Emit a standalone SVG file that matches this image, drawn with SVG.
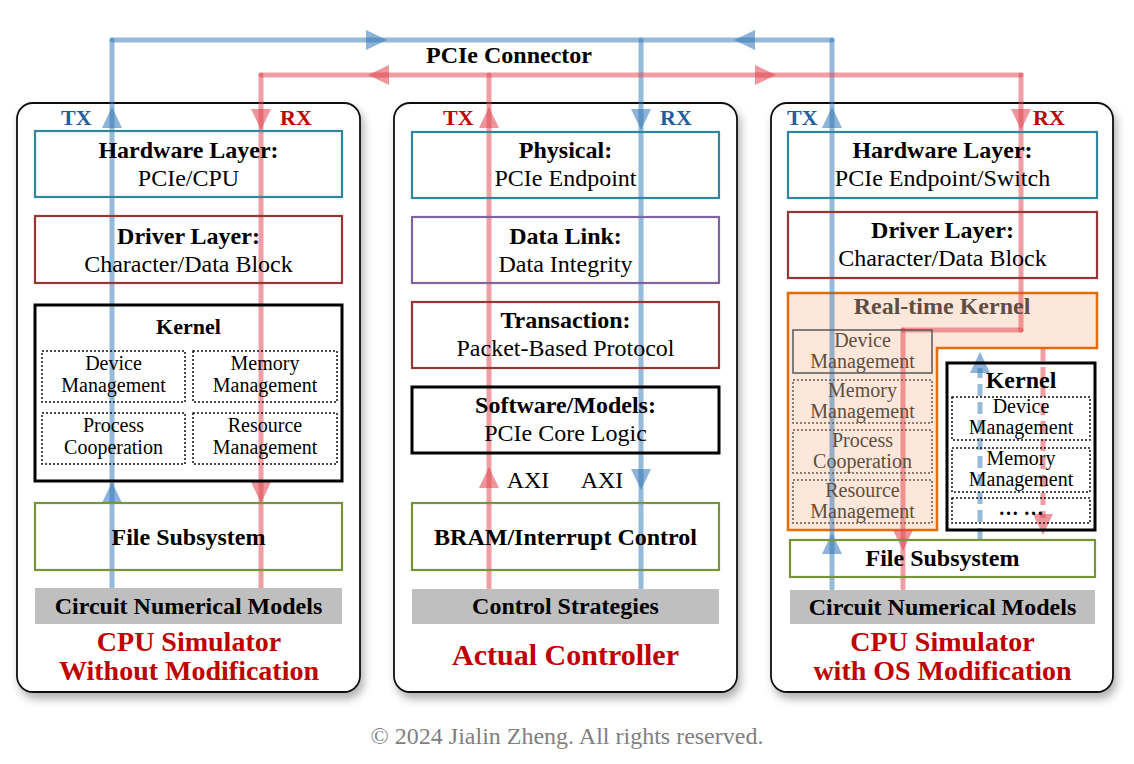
<svg xmlns="http://www.w3.org/2000/svg" width="1134" height="764" viewBox="0 0 1134 764">
<defs>
<style>
text{font-family:"Liberation Serif","Times New Roman",serif;text-anchor:middle}
.b{font-weight:bold}
.t24{font-size:24px}
.t21{font-size:20px}
.lbl{font-size:22px;font-weight:bold;text-anchor:start}
.title{font-size:28px;font-weight:bold;fill:#C00000}
.panel{fill:#fff;stroke:#111;stroke-width:1.8;filter:url(#sh)}
.box{fill:none;stroke-width:2.2}
.teal{stroke:#31859C}
.dred{stroke:#953735}
.purple{stroke:#8064A2}
.green{stroke:#77933C}
.blk{fill:none;stroke:#000;stroke-width:3}
.dot{fill:none;stroke:#111;stroke-width:1.5;stroke-dasharray:2 2}
.dotg{fill:none;stroke:#6a5a4e;stroke-width:1.5;stroke-dasharray:2 2}
.gray{fill:#BFBFBF}
.bl{stroke:#2E75B6;stroke-opacity:.5;stroke-width:5;stroke-linecap:round;fill:none}
.rd{stroke:#E0404A;stroke-opacity:.5;stroke-width:5;stroke-linecap:round;fill:none}
.bla{fill:#2E75B6;fill-opacity:.55}
.rda{fill:#E0404A;fill-opacity:.55}
.dash{stroke-dasharray:12 6;stroke-linecap:butt}
.rt{fill:#5E4E42}
</style>
<filter id="sh" x="-10%" y="-10%" width="120%" height="120%">
<feDropShadow dx="3" dy="6" stdDeviation="4" flood-color="#000" flood-opacity="0.3"/>
</filter>
<path id="ah" d="M0 0 L-21 -10 L-21 10 Z"/>
</defs>
<rect width="1134" height="764" fill="#fff"/>

<g id="panels">
<rect id="panel-left" class="panel" x="17" y="103" width="343" height="589" rx="16"/>
<rect id="panel-mid" class="panel" x="394" y="103" width="343" height="589" rx="16"/>
<rect id="panel-right" class="panel" x="771" y="103" width="342" height="589" rx="16"/>
</g>

<g id="realtime-kernel-bg">
<path d="M788 293 H1097 V348 H937 V530 H788 Z" fill="#FBE3D3" fill-opacity="0.85" stroke="#E46C0A" stroke-width="2.5"/>
</g>

<g id="connectors">
<line class="bl" x1="112" y1="40" x2="832" y2="40"/>
<line class="bl" x1="112" y1="40" x2="112" y2="588"/>
<line class="bl" x1="641" y1="40" x2="641" y2="588"/>
<line class="bl" x1="832" y1="40" x2="832" y2="588"/>
<line class="rd" x1="261" y1="75" x2="1021" y2="75"/>
<line class="rd" x1="261" y1="75" x2="261" y2="588"/>
<line class="rd" x1="489" y1="75" x2="489" y2="588"/>
<line class="rd" x1="1021" y1="75" x2="1021" y2="330"/>
<line class="rd" x1="1021" y1="330" x2="903" y2="330"/>
<line class="rd" x1="903" y1="330" x2="903" y2="588"/>
<line class="bl dash" x1="980" y1="540" x2="980" y2="368"/>
<line class="rd dash" x1="1043" y1="349" x2="1043" y2="518"/>
<use href="#ah" class="bla" transform="translate(387,40)"/>
<use href="#ah" class="bla" transform="translate(734,40) rotate(180)"/>
<use href="#ah" class="rda" transform="translate(368,75) rotate(180)"/>
<use href="#ah" class="rda" transform="translate(776,75)"/>
<use href="#ah" class="bla" transform="translate(112,107) rotate(-90)"/>
<use href="#ah" class="rda" transform="translate(261,130) rotate(90)"/>
<use href="#ah" class="bla" transform="translate(112,482) rotate(-90)"/>
<use href="#ah" class="rda" transform="translate(261,503) rotate(90)"/>
<use href="#ah" class="rda" transform="translate(489,107) rotate(-90)"/>
<use href="#ah" class="bla" transform="translate(641,130) rotate(90)"/>
<use href="#ah" class="rda" transform="translate(489,467) rotate(-90)"/>
<use href="#ah" class="bla" transform="translate(641,490) rotate(90)"/>
<use href="#ah" class="bla" transform="translate(832,107) rotate(-90)"/>
<use href="#ah" class="rda" transform="translate(1021,130) rotate(90)"/>
<use href="#ah" class="bla" transform="translate(832,533) rotate(-90)"/>
<use href="#ah" class="rda" transform="translate(903,551) rotate(90)"/>
<use href="#ah" class="bla" transform="translate(980,352) rotate(-90)"/>
<use href="#ah" class="rda" transform="translate(1043,535) rotate(90)"/>
</g>

<g id="pcie-connector"><text class="b" x="509" y="63" style="font-size:24px">PCIe Connector</text></g>

<!-- Left panel -->
<g id="left-labels">
<text class="lbl" x="61" y="125" fill="#1F5FA0">TX</text>
<text class="lbl" x="280" y="125" fill="#C00000">RX</text>
</g>
<g id="left-hardware">
<rect class="box teal" x="35" y="131" width="307" height="66"/>
<text class="b t24" x="188.5" y="158">Hardware Layer:</text>
<text class="t24" x="188.5" y="186">PCIe/CPU</text>
</g>
<g id="left-driver">
<rect class="box dred" x="35" y="216" width="307" height="67"/>
<text class="b t24" x="188.5" y="244">Driver Layer:</text>
<text class="t24" x="188.5" y="272">Character/Data Block</text>
</g>
<g id="left-kernel">
<rect class="blk" x="35" y="305" width="307" height="176"/>
<text class="b" x="188.5" y="334" style="font-size:22px">Kernel</text>
<rect class="dot" x="42" y="351" width="143" height="51"/>
<text class="t21" x="113.5" y="370">Device</text>
<text class="t21" x="113.5" y="392">Management</text>
<rect class="dot" x="193" y="351" width="144" height="51"/>
<text class="t21" x="265" y="370">Memory</text>
<text class="t21" x="265" y="392">Management</text>
<rect class="dot" x="42" y="413" width="143" height="51"/>
<text class="t21" x="113.5" y="432">Process</text>
<text class="t21" x="113.5" y="454">Cooperation</text>
<rect class="dot" x="193" y="413" width="144" height="51"/>
<text class="t21" x="265" y="432">Resource</text>
<text class="t21" x="265" y="454">Management</text>
</g>
<g id="left-file">
<rect class="box green" x="35" y="503" width="307" height="67"/>
<text class="b t24" x="188.5" y="545">File Subsystem</text>
</g>
<g id="left-models">
<rect class="gray" x="35" y="588" width="307" height="36"/>
<text class="b t24" x="188.5" y="614">Circuit Numerical Models</text>
</g>
<g id="left-title">
<text class="title" x="189" y="651">CPU Simulator</text>
<text class="title" x="189" y="680">Without Modification</text>
</g>

<!-- Middle panel -->
<g id="mid-labels">
<text class="lbl" x="443" y="125" fill="#C00000">TX</text>
<text class="lbl" x="660" y="125" fill="#1F5FA0">RX</text>
</g>
<g id="mid-physical">
<rect class="box teal" x="412" y="132" width="307" height="66"/>
<text class="b t24" x="565.5" y="158">Physical:</text>
<text class="t24" x="565.5" y="186">PCIe Endpoint</text>
</g>
<g id="mid-datalink">
<rect class="box purple" x="412" y="217" width="307" height="66"/>
<text class="b t24" x="565.5" y="244">Data Link:</text>
<text class="t24" x="565.5" y="272">Data Integrity</text>
</g>
<g id="mid-transaction">
<rect class="box dred" x="412" y="302" width="307" height="66"/>
<text class="b t24" x="565.5" y="328">Transaction:</text>
<text class="t24" x="565.5" y="356">Packet-Based Protocol</text>
</g>
<g id="mid-software">
<rect class="blk" x="412" y="387" width="307" height="66"/>
<text class="b t24" x="565.5" y="413">Software/Models:</text>
<text class="t24" x="565.5" y="441">PCIe Core Logic</text>
</g>
<g id="mid-axi">
<text class="t24" x="528" y="488">AXI</text>
<text class="t24" x="602" y="488">AXI</text>
</g>
<g id="mid-bram">
<rect class="box green" x="412" y="503" width="307" height="67"/>
<text class="b t24" x="565.5" y="545">BRAM/Interrupt Control</text>
</g>
<g id="mid-control">
<rect class="gray" x="412" y="589" width="307" height="35"/>
<text class="b t24" x="565.5" y="614">Control Strategies</text>
</g>
<g id="mid-title">
<text class="title" x="565.5" y="665" style="font-size:30px">Actual Controller</text>
</g>

<!-- Right panel -->
<g id="right-labels">
<text class="lbl" x="787" y="125" fill="#1F5FA0">TX</text>
<text class="lbl" x="1033" y="125" fill="#C00000">RX</text>
</g>
<g id="right-hardware">
<rect class="box teal" x="788" y="132" width="309" height="66"/>
<text class="b t24" x="942.5" y="158">Hardware Layer:</text>
<text class="t24" x="942.5" y="186">PCIe Endpoint/Switch</text>
</g>
<g id="right-driver">
<rect class="box dred" x="788" y="212" width="309" height="66"/>
<text class="b t24" x="942.5" y="238">Driver Layer:</text>
<text class="t24" x="942.5" y="266">Character/Data Block</text>
</g>
<g id="right-realtime-kernel">
<text class="b t24 rt" x="942" y="314">Real-time Kernel</text>
<rect fill="none" stroke="#595959" stroke-width="1.5" x="793" y="330" width="139" height="43"/>
<text class="t21 rt" x="862.5" y="347">Device</text>
<text class="t21 rt" x="862.5" y="368">Management</text>
<rect class="dotg" x="793" y="380" width="139" height="43"/>
<text class="t21 rt" x="862.5" y="397">Memory</text>
<text class="t21 rt" x="862.5" y="418">Management</text>
<rect class="dotg" x="793" y="430" width="139" height="43"/>
<text class="t21 rt" x="862.5" y="447">Process</text>
<text class="t21 rt" x="862.5" y="468">Cooperation</text>
<rect class="dotg" x="793" y="480" width="139" height="43"/>
<text class="t21 rt" x="862.5" y="497">Resource</text>
<text class="t21 rt" x="862.5" y="518">Management</text>
</g>
<g id="right-kernel">
<rect class="blk" x="947" y="363" width="148" height="167"/>
<text class="b t24" x="1021" y="388">Kernel</text>
<rect class="dot" x="952" y="397" width="138" height="43"/>
<text class="t21" x="1021" y="413">Device</text>
<text class="t21" x="1021" y="434">Management</text>
<rect class="dot" x="952" y="448" width="138" height="44"/>
<text class="t21" x="1021" y="465">Memory</text>
<text class="t21" x="1021" y="486">Management</text>
<rect class="dot" x="952" y="498" width="138" height="25"/>
<text class="b t21" x="1021" y="515">… …</text>
</g>
<g id="right-file">
<rect class="box green" x="790" y="540" width="305" height="37"/>
<text class="b t24" x="942.5" y="566">File Subsystem</text>
</g>
<g id="right-models">
<rect class="gray" x="790" y="590" width="305" height="34"/>
<text class="b t24" x="942.5" y="615">Circuit Numerical Models</text>
</g>
<g id="right-title">
<text class="title" x="942.5" y="651">CPU Simulator</text>
<text class="title" x="942.5" y="680">with OS Modification</text>
</g>

<g id="copyright">
<text x="567" y="744" style="font-size:24px" fill="#7F7F7F">© 2024 Jialin Zheng. All rights reserved.</text>
</g>
</svg>
